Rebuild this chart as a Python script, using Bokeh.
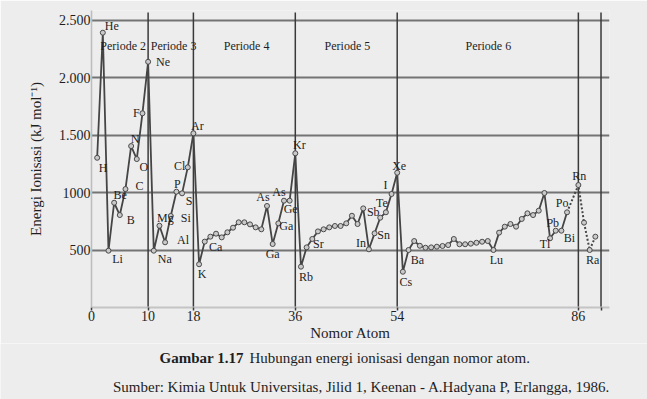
from bokeh.plotting import figure
from bokeh.layouts import column
from bokeh.models import FixedTicker, ColumnDataSource, Range1d
from bokeh.embed import file_html
from bokeh.resources import INLINE
from bokeh.core.properties import value

# ---------------- data ----------------
atomic_number = list(range(1, 85)) + [86, 87, 88, 89]
ionization_energy = [
    1302, 2390, 494, 911, 804, 1030, 1404, 1291, 1689, 2137,
    494, 711, 567, 796, 1007, 993, 1219, 1515, 376,
    573, 616, 642, 610, 654, 694, 741, 741, 723, 697, 680, 883, 552, 732, 929, 929, 1341,
    355, 523, 596, 662, 680, 697, 709, 709, 732, 798, 726, 862, 506, 645, 781, 828, 987, 1172,
    311, 500, 578, 537, 520, 523, 529, 535, 543, 596, 550, 550, 555, 563, 572, 578, 500,
    651, 703, 726, 703, 770, 819, 804, 842, 996, 602, 668, 668, 828,
    1065, 738, 500, 616,
]
dotted_from = 84  # dashed segment starts at Po

period_bounds = [10, 18, 36, 54, 86, 90]
period_names = ["Periode 2", "Periode 3", "Periode 4", "Periode 5", "Periode 6"]
period_label_x = [5.6, 14.5, 27.4, 45.2, 70.1]
period_label_y = 2272

y_ticks = [500, 1000, 1500, 2000, 2500]
y_tick_labels = ["500", "1000", "1.500", "2.000", "2.500"]
x_ticks = [0, 10, 18, 36, 54, 86, 90]
x_tick_labels = ["0", "10", "18", "36", "54", "86", ""]

label_text = ["He", "H", "Li", "Be", "B", "C", "N", "O", "F", "Ne",
              "Na", "Mg", "Al", "Si", "P", "S", "Cl", "Ar", "K", "Ca",
              "As", "Ga", "Ga", "As", "Ge", "Kr", "Rb", "Sr", "In", "Sn",
              "Sb", "Te", "I", "Xe", "Cs", "Ba", "Lu", "Tl", "Pb", "Bi",
              "Po", "Rn", "Ra"]
label_z = [2, 1, 3, 4, 5, 6, 7, 8, 9, 10,
           11, 12, 13, 14, 15, 16, 17, 18, 19, 20,
           31, 32, 33, 34, 35, 36, 37, 39, 49, 50,
           51, 52, 53, 54, 55, 56, 71, 81, 82, 83,
           84, 86, 88]
# screen-pixel offsets of each label from its point (x right, y down)
label_dx = [9, 6, 9, 6, 11, 14, 4, 7, -6, 15,
            11, 6, 18, 15, 1, 7, -8, 4, 3, 11,
            -4, 0, 8, -5, 1, 4, 5, 6, -8, 9,
            -7, -4, -6, 2, 3, 9, 3, -5, -3, 8,
            -5, 1, 3]
label_dy = [-7, 10, 8, -8, 5, -3, -7, 8, 0, 0,
            8, -8, -2, 2, -8, 8, -1, -7, 10, 5,
            -9, 10, 3, -9, 8, -8, 10, 5, -6, 2,
            -6, -9, -9, -7, 10, 10, 10, 6, -8, 7,
            -9, -9, 10]

caption_bold = "Gambar 1.17"
caption_rest = "Hubungan energi ionisasi dengan nomor atom."
source_text = "Sumber: Kimia Untuk Universitas, Jilid 1, Keenan - A.Hadyana P, Erlangga, 1986."

FONT = "Liberation Serif"
TXT = "#1e1e1e"
BG = "#ededed"

p = figure(width=647, height=338, x_range=(0, 91.5), y_range=(0, 2583),
           frame_width=518, frame_height=297,
           min_border_left=91, min_border_right=38, min_border_top=10, min_border_bottom=31,
           output_backend="svg", toolbar_location=None,
           background_fill_color=BG, border_fill_color=BG)
p.outline_line_color = None
p.frame_align = False

# axes
p.yaxis.ticker = FixedTicker(ticks=y_ticks)
p.yaxis.major_label_overrides = dict(zip(y_ticks, y_tick_labels))
p.yaxis.major_tick_line_color = None
p.yaxis.major_tick_out = 0
p.yaxis.major_tick_in = 0
p.yaxis.minor_tick_line_color = None
p.yaxis.axis_line_color = "#bdbdbd"
p.yaxis.axis_line_width = 1.5
p.yaxis.major_label_standoff = 1
p.yaxis.major_label_text_font = FONT
p.yaxis.major_label_text_font_size = "14px"
p.yaxis.major_label_text_color = TXT
p.yaxis.axis_label = "Energi Ionisasi (kJ mol\u207b\u00b9)"
p.yaxis.axis_label_text_font = FONT
p.yaxis.axis_label_text_font_size = "15px"
p.yaxis.axis_label_text_font_style = "normal"
p.yaxis.axis_label_text_color = TXT
p.yaxis.axis_label_standoff = 12

p.xaxis.ticker = FixedTicker(ticks=x_ticks)
p.xaxis.major_label_overrides = dict(zip(x_ticks, x_tick_labels))
p.xaxis.major_tick_line_color = "#3c3c3c"
p.xaxis.major_tick_line_width = 1.5
p.xaxis.major_tick_in = 0
p.xaxis.major_tick_out = 3
p.xaxis.minor_tick_line_color = None
p.xaxis.axis_line_color = "#c4c4c4"
p.xaxis.axis_line_width = 2
p.xaxis.major_label_standoff = 0
p.xaxis.major_label_text_font = FONT
p.xaxis.major_label_text_font_size = "14px"
p.xaxis.major_label_text_color = TXT
p.xaxis.axis_label = "Nomor Atom"
p.xaxis.axis_label_text_font = FONT
p.xaxis.axis_label_text_font_size = "15px"
p.xaxis.axis_label_text_font_style = "normal"
p.xaxis.axis_label_text_color = TXT
p.xaxis.axis_label_standoff = 1

p.xgrid.visible = False
p.ygrid.ticker = FixedTicker(ticks=y_ticks)
p.ygrid.grid_line_color = "#747474"
p.ygrid.grid_line_width = 2

# period boundaries
p.segment(x0=period_bounds, y0=[0] * len(period_bounds), x1=period_bounds,
          y1=[2565] * len(period_bounds), line_color="#3a3a3a", line_width=1.5)

# data line
n_solid = atomic_number.index(dotted_from) + 1
p.line(atomic_number[:n_solid], ionization_energy[:n_solid], line_color="#454545", line_width=1.8)
p.line(atomic_number[n_solid - 1:], ionization_energy[n_solid - 1:], line_color="#454545",
       line_width=2, line_dash="2 2")
p.scatter(atomic_number, ionization_energy, size=5, fill_color="#c9c9c9",
          line_color="#4a4a4a", line_width=1)

# element labels
ie_of = dict(zip(atomic_number, ionization_energy))
lab_src = ColumnDataSource(dict(x=label_z, y=[ie_of[z] for z in label_z], text=label_text,
                                dx=label_dx, dy=label_dy))
p.text(x="x", y="y", text="text", x_offset="dx", y_offset="dy", source=lab_src,
       text_align="center", text_baseline="middle", text_font=value(FONT),
       text_font_size="12px", text_color=TXT)

# period labels
p.text(x=period_label_x, y=[period_label_y] * len(period_names), text=period_names,
       text_align="center", text_baseline="middle", text_font=value(FONT),
       text_font_size="12px", text_color=TXT)

# caption strip (pixel coordinates: x right, y down)
cap = figure(width=647, height=61, x_range=Range1d(0, 647), y_range=Range1d(61, 0),
             min_border=0, min_border_left=0, min_border_right=0,
             min_border_top=0, min_border_bottom=0,
             output_backend="svg", toolbar_location=None,
             x_axis_type=None, y_axis_type=None,
             background_fill_color=BG, border_fill_color=BG)
cap.outline_line_color = None
cap.frame_align = False
cap.grid.visible = False
cap.text(x=[159], y=[14], text=[caption_bold], text_align="left", text_baseline="middle",
         text_font=value(FONT), text_font_size="15px", text_font_style="bold", text_color=TXT)
cap.text(x=[249], y=[14], text=[caption_rest], text_align="left", text_baseline="middle",
         text_font=value(FONT), text_font_size="15px", text_color=TXT)
cap.text(x=[361], y=[43], text=[source_text], text_align="center", text_baseline="middle",
         text_font=value(FONT), text_font_size="15px", text_color=TXT)

layout = column(p, cap, spacing=0)
open("out.html", "w").write(file_html(layout, INLINE))
